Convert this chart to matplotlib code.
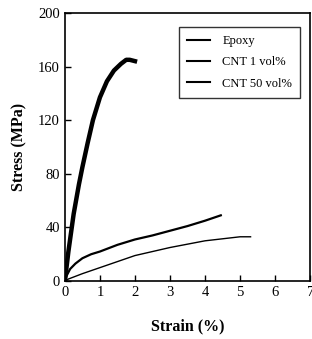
import numpy as np
import matplotlib
matplotlib.use("Agg")
import matplotlib.pyplot as plt

plt.rcParams["font.family"] = ["Liberation Serif", "DejaVu Serif"]

# strain (%) and stress (MPa)
epoxy_strain = [0, 0.1, 0.3, 0.5, 1.0, 1.5, 2.0, 2.5, 3.0, 3.5, 4.0, 4.5, 5.0, 5.3]
epoxy_stress = [0, 1.5, 3.5, 5.5, 10, 14.5, 19, 22, 25, 27.5, 30, 31.5, 33, 33]

cnt1_strain = [0, 0.05, 0.15, 0.3, 0.5, 0.75, 1.0, 1.5, 2.0, 2.5, 3.0, 3.5, 4.0, 4.45]
cnt1_stress = [0, 4, 9, 13, 17, 20, 22, 27, 31, 34, 37.5, 41, 45, 49]

cnt50_strain = [0, 0.1, 0.25, 0.4, 0.5, 0.65, 0.8, 1.0, 1.2, 1.4, 1.6, 1.75, 1.85, 2.0]
cnt50_stress = [0, 22, 50, 72, 85, 103, 120, 137, 149, 157, 162, 165, 165, 164]

fig = plt.figure(figsize=(3.12, 3.39), dpi=100)
ax = fig.add_axes([0.208, 0.171, 0.786, 0.791])

ax.plot(epoxy_strain, epoxy_stress, color="black", lw=1.0, label="Epoxy")
ax.plot(cnt1_strain, cnt1_stress, color="black", lw=1.6, label="CNT 1 vol%")
ax.plot(cnt50_strain, cnt50_stress, color="black", lw=3.2, label="CNT 50 vol%")

ax.set_xlim(0, 7)
ax.set_ylim(0, 200)
ax.set_xticks(range(0, 8))
ax.set_yticks(range(0, 201, 40))
ax.tick_params(direction="in", length=4, width=1, labelsize=10.5)
for s in ax.spines.values():
    s.set_linewidth(1.2)

ax.set_xlabel("Strain (%)", fontsize=11.5, fontweight="bold", labelpad=14)
ax.set_ylabel("Stress (MPa)", fontsize=11.5, fontweight="bold", labelpad=8)

leg = ax.legend(loc="upper right", bbox_to_anchor=(0.96, 0.948), fontsize=9,
                frameon=True, fancybox=False, edgecolor="black",
                borderaxespad=0, handlelength=1.8, handletextpad=1.0,
                borderpad=0.65, labelspacing=0.75)
leg.get_frame().set_linewidth(1.0)
for h in leg.legend_handles:
    h.set_linewidth(1.5)

fig.savefig("out.png", dpi=100)
